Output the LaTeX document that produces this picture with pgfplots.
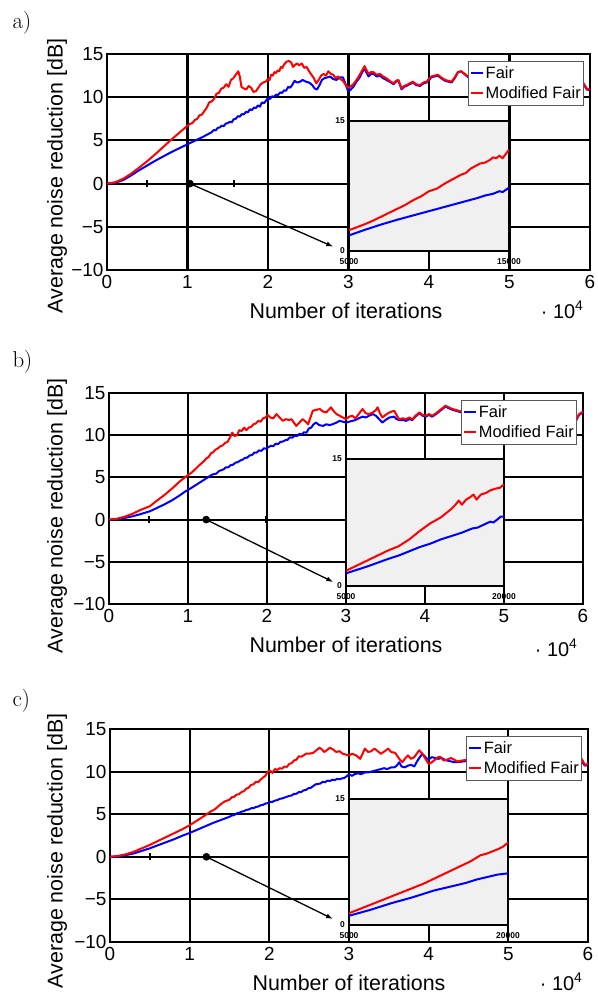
\documentclass[border=0pt]{standalone}
\usepackage{fontspec}
\usepackage{pgfplots}
\pgfplotsset{compat=1.18}
\usetikzlibrary{arrows.meta}
\newfontfamily\arial{Liberation Sans}
\pgfplotsset{
  mainax/.style={scale only axis, xmin=0, xmax=6, ymin=-10, ymax=15,
    xtick={0,1,2,3,4,5,6}, xticklabels={0,1,2,3,4,5,6},
    ytick={-10,-5,0,5,10,15}, yticklabels={−10,−5,0,5,10,15},
    grid=major, grid style={black, line width=2.1bp},
    axis line style={black, line width=2.1bp},
    major tick length=0pt,
    tick label style={font=\arial\fontsize{19}{19}\selectfont},
    xticklabel shift=2bp,
    legend style={at={(rel axis cs:0.988,0.968)}, anchor=north east,
      draw=black!65, line width=0.9bp, fill=white,
      font=\arial\fontsize{16.5}{18}\selectfont,
      inner xsep=1.5bp, inner ysep=3.5bp, row sep=4bp,
      nodes={inner sep=1.5bp}},
    legend cell align=left,
  },
  inset/.style={scale only axis, ymin=0, ymax=15, ytick={0,15}, yticklabels={0,15},
    axis background/.style={fill=black!6},
    axis line style={black, line width=1.8bp},
    major tick length=0pt,
    tick label style={font=\arial\bfseries\fontsize{8.5}{9}\selectfont},
    yticklabel style={inner sep=0pt, xshift=-4bp},
    xticklabel style={inner sep=0pt, yshift=-7bp},
    scaled x ticks=false,
  },
  fairb/.style={blue, line width=2bp, line join=round},
  fairr/.style={red, line width=2bp, line join=round},
  legb/.style={legend image code/.code={\draw[blue, line width=2bp] (0bp,0bp) -- (12bp,0bp);}},
  legr/.style={legend image code/.code={\draw[red, line width=2bp] (0bp,0bp) -- (12bp,0bp);}},
  tickmk/.style={forget plot, black, only marks, mark=|, mark size=3.5bp, mark options={line width=2bp}},
  dotmk/.style={forget plot, black, only marks, mark=*, mark size=3.6bp},
  arr/.style={forget plot, black, line width=1.3bp, -{Latex[length=7bp,width=5bp]}},
}
\begin{document}
\begin{tikzpicture}
\useasboundingbox (0bp,0bp) rectangle (598bp,-994bp);
% ---------------- panel a ----------------
\node[anchor=base west, font=\fontsize{23}{23}\selectfont] at (9bp,-28bp) {a)};
\begin{axis}[mainax, at={(107bp,-270bp)}, anchor=south west, width=483bp, height=216bp]
\addplot[fairb, legb] coordinates {(0,0)(0.1,0.1)(0.2,0.4)(0.3,0.95)(0.4,1.55)(0.5,2.1)(0.6,2.65)(0.7,3.15)(0.8,3.65)(0.9,4.1)(1.0,4.55)(1.1,5.0)(1.2,5.45)(1.3,5.95)(1.325,6.2)(1.35,6.15)(1.375,6.45)(1.4,6.5)(1.425,6.7)(1.45,6.65)(1.475,6.95)(1.5,7.0)(1.525,7.15)(1.55,7.1)(1.575,7.45)(1.6,7.5)(1.625,7.8)(1.65,7.75)(1.675,8.05)(1.7,8.0)(1.725,8.3)(1.75,8.25)(1.775,8.6)(1.8,8.5)(1.825,8.8)(1.85,8.75)(1.875,9.05)(1.9,8.9)(1.925,9.4)(1.95,9.3)(1.975,9.6)(2.0,9.9)(2.025,9.8)(2.05,10.1)(2.075,10.05)(2.1,10.3)(2.125,10.25)(2.15,10.55)(2.175,10.5)(2.2,10.8)(2.225,10.75)(2.25,11.2)(2.275,11.1)(2.3,11.4)(2.33,11.9)(2.36,11.7)(2.4,11.8)(2.43,12.0)(2.47,11.8)(2.51,11.7)(2.55,11.4)(2.58,11.0)(2.61,10.9)(2.64,11.4)(2.67,12.0)(2.7,12.2)(2.74,12.3)(2.77,12.4)(2.81,12.1)(2.85,12.0)(2.89,12.3)(2.93,12.3)(2.96,11.6)(2.99,10.8)(3.02,10.8)(3.06,11.2)(3.1,11.8)(3.14,12.3)(3.17,12.9)(3.2,13.3)(3.22,12.9)(3.25,12.4)(3.28,12.7)(3.31,12.7)(3.35,12.4)(3.39,12.5)(3.43,12.2)(3.47,12.0)(3.51,11.8)(3.56,11.5)(3.59,11.8)(3.62,11.9)(3.64,11.4)(3.66,10.9)(3.69,11.2)(3.72,11.3)(3.76,11.5)(3.8,11.7)(3.84,11.4)(3.89,11.3)(3.93,11.6)(3.97,11.7)(4.0,12.0)(4.03,12.3)(4.07,12.4)(4.11,12.5)(4.15,12.2)(4.2,11.9)(4.24,11.8)(4.28,11.7)(4.32,12.2)(4.36,12.9)(4.4,13.0)(4.5,12.2)(4.7,12.0)(4.9,11.6)(5.1,11.9)(5.3,11.5)(5.5,11.8)(5.7,11.3)(5.88,11.6)(5.92,11.5)(5.96,10.9)(6.0,10.8)};
\addlegendentry{Fair}
\addplot[fairr, legr] coordinates {(0,0)(0.1,0.15)(0.2,0.55)(0.3,1.15)(0.4,1.85)(0.5,2.6)(0.6,3.4)(0.7,4.25)(0.8,5.1)(0.9,5.9)(1.0,6.7)(1.03,6.9)(1.06,7.0)(1.09,7.35)(1.12,7.5)(1.15,7.9)(1.18,8.0)(1.21,8.4)(1.24,8.8)(1.27,9.4)(1.3,9.5)(1.33,9.8)(1.36,10.4)(1.39,10.5)(1.42,11.0)(1.45,11.1)(1.48,11.5)(1.51,11.2)(1.54,12.0)(1.57,12.2)(1.6,12.6)(1.63,13.0)(1.65,12.4)(1.67,11.2)(1.7,11.0)(1.73,10.9)(1.76,11.3)(1.79,11.1)(1.82,10.6)(1.85,10.7)(1.88,11.1)(1.91,11.5)(1.94,11.7)(1.97,11.8)(2.0,12.1)(2.02,12.0)(2.04,12.6)(2.06,12.5)(2.08,12.9)(2.1,12.8)(2.12,13.1)(2.14,13.0)(2.16,13.5)(2.18,13.4)(2.2,13.8)(2.23,14.1)(2.26,14.2)(2.29,14.0)(2.31,13.5)(2.33,13.7)(2.36,13.9)(2.39,13.7)(2.42,13.9)(2.45,13.4)(2.48,13.5)(2.51,13.0)(2.54,12.6)(2.57,12.2)(2.6,11.6)(2.63,12.0)(2.66,12.5)(2.69,12.7)(2.72,12.5)(2.75,13.0)(2.78,12.7)(2.81,12.6)(2.84,12.2)(2.87,12.4)(2.9,12.1)(2.93,11.9)(2.96,11.5)(2.99,11.1)(3.02,11.2)(3.06,11.5)(3.1,12.0)(3.14,12.6)(3.17,13.1)(3.2,13.6)(3.22,13.2)(3.25,12.7)(3.28,12.9)(3.31,12.9)(3.35,12.6)(3.39,12.7)(3.43,12.4)(3.47,12.2)(3.51,11.9)(3.56,11.6)(3.59,11.9)(3.62,12.0)(3.64,11.5)(3.66,11.0)(3.69,11.3)(3.72,11.4)(3.76,11.6)(3.8,11.8)(3.84,11.5)(3.89,11.4)(3.93,11.7)(3.97,11.8)(4.0,12.1)(4.03,12.4)(4.07,12.5)(4.11,12.6)(4.15,12.3)(4.2,12.0)(4.24,11.9)(4.28,11.8)(4.32,12.3)(4.36,12.9)(4.4,13.0)(4.5,12.3)(4.7,12.1)(4.9,11.7)(5.1,12.0)(5.3,11.6)(5.5,11.9)(5.7,11.4)(5.88,11.7)(5.92,11.6)(5.96,11.0)(6.0,10.9)};
\addlegendentry{Modified Fair\hspace{8bp}}
\addplot[arr] coordinates {(1.03,0)(2.81,-7.3)};
\addplot[tickmk] coordinates {(0.5,0)(1.58,0)};
\addplot[dotmk] coordinates {(1.03,0)};
\end{axis}
\begin{axis}[inset, at={(349bp,-251bp)}, anchor=south west, width=160bp, height=130bp,
  xmin=5000, xmax=15000, xtick={5000,15000}, xticklabels={5000,15000}]
\addplot[fairb] coordinates {(5000,1.8)(6000,2.45)(7000,3.05)(8000,3.6)(9000,4.1)(10000,4.6)(11000,5.1)(12000,5.6)(13000,6.1)(13500,6.4)(14000,6.6)(14400,6.9)(14600,6.8)(15000,7.3)};
\addplot[fairr] coordinates {(5000,2.4)(5500,2.75)(6000,3.1)(6500,3.5)(7000,3.95)(7500,4.4)(8000,4.85)(8500,5.3)(9000,5.85)(9500,6.3)(10000,6.9)(10500,7.2)(11000,7.8)(11500,8.3)(12000,8.8)(12300,9.0)(12600,9.5)(12900,9.8)(13200,10.1)(13500,10.2)(13800,10.5)(14000,10.8)(14200,10.7)(14400,11.0)(14600,10.7)(14800,11.2)(15000,11.7)};
\end{axis}
\node[rotate=90, font=\arial\fontsize{21.5}{22}\selectfont] at (57bp,-176bp) {Average noise reduction [dB]};
\node[anchor=base, font=\arial\fontsize{21.5}{22}\selectfont] at (346bp,-318bp) {Number of iterations};
\node[anchor=base east, font=\arial\fontsize{20}{22}\selectfont] at (587bp,-318bp) {·~10\textsuperscript{4}};
% ---------------- panel b ----------------
\node[anchor=base west, font=\fontsize{23}{23}\selectfont] at (9bp,-367bp) {b)};
\begin{axis}[mainax, at={(109bp,-604bp)}, anchor=south west, width=474bp, height=211bp]
\addplot[fairb, legb] coordinates {(0,0)(0.1,0.05)(0.2,0.2)(0.3,0.4)(0.4,0.65)(0.52,1.0)(0.6,1.35)(0.7,1.8)(0.8,2.3)(0.9,2.9)(0.96,3.3)(1.05,3.8)(1.15,4.4)(1.3,5.3)(1.33,5.4)(1.36,5.45)(1.39,5.75)(1.42,5.85)(1.45,5.95)(1.48,6.2)(1.51,6.2)(1.54,6.45)(1.57,6.5)(1.6,6.75)(1.63,6.8)(1.66,7.0)(1.69,7.1)(1.72,7.3)(1.75,7.35)(1.78,7.6)(1.81,7.65)(1.84,7.95)(1.87,7.95)(1.9,8.2)(1.93,8.15)(1.96,8.45)(1.99,8.4)(2.02,8.6)(2.05,8.75)(2.08,8.7)(2.11,9.0)(2.14,8.95)(2.17,9.2)(2.2,9.25)(2.23,9.4)(2.26,9.45)(2.29,9.75)(2.32,9.7)(2.35,9.95)(2.38,9.9)(2.41,10.15)(2.44,10.1)(2.47,10.35)(2.5,10.3)(2.53,10.8)(2.56,10.9)(2.59,11.3)(2.62,11.5)(2.66,11.2)(2.71,11.1)(2.75,11.3)(2.79,11.2)(2.83,11.3)(2.88,11.5)(2.92,11.7)(2.96,11.6)(3.0,11.5)(3.04,11.6)(3.08,11.7)(3.12,11.8)(3.16,12.0)(3.21,12.2)(3.25,12.1)(3.29,12.3)(3.34,12.5)(3.38,12.3)(3.42,11.9)(3.46,11.5)(3.5,11.8)(3.55,12.1)(3.61,12.2)(3.64,11.9)(3.67,11.8)(3.72,11.8)(3.76,11.7)(3.8,11.9)(3.84,11.8)(3.88,12.2)(3.93,12.6)(3.97,12.3)(4.01,12.2)(4.05,12.4)(4.09,12.2)(4.14,12.5)(4.18,12.8)(4.22,13.1)(4.26,13.4)(4.3,13.2)(4.35,13.0)(4.5,12.6)(4.8,12.3)(5.1,12.1)(5.4,12.0)(5.7,11.8)(5.9,11.5)(5.95,12.4)(6.0,12.7)};
\addlegendentry{Fair}
\addplot[fairr, legr] coordinates {(0,0)(0.1,0.1)(0.2,0.35)(0.3,0.7)(0.4,1.15)(0.52,1.6)(0.6,2.2)(0.7,2.9)(0.8,3.7)(0.9,4.55)(0.96,5.0)(1.05,5.6)(1.15,6.5)(1.2,6.9)(1.23,7.25)(1.26,7.4)(1.29,7.85)(1.32,8.0)(1.35,8.3)(1.38,8.45)(1.41,8.7)(1.44,8.8)(1.47,9.1)(1.5,9.2)(1.53,9.7)(1.56,10.3)(1.59,9.9)(1.62,10.0)(1.65,10.6)(1.68,10.5)(1.71,10.9)(1.74,10.6)(1.77,10.9)(1.8,11.0)(1.83,11.3)(1.86,11.4)(1.89,11.7)(1.92,11.6)(1.95,12.0)(1.98,12.1)(2.01,12.4)(2.04,12.1)(2.08,12.0)(2.12,12.5)(2.16,12.1)(2.2,11.7)(2.24,11.9)(2.28,11.8)(2.31,11.9)(2.34,11.5)(2.37,11.1)(2.41,11.5)(2.45,11.9)(2.49,11.6)(2.52,11.3)(2.55,12.1)(2.58,12.9)(2.62,13.0)(2.67,13.1)(2.71,12.8)(2.75,12.7)(2.78,13.0)(2.81,13.3)(2.84,12.9)(2.88,12.5)(2.92,12.3)(2.96,12.1)(3.0,11.9)(3.04,12.2)(3.08,12.3)(3.12,12.0)(3.16,12.5)(3.21,13.1)(3.25,12.6)(3.29,12.5)(3.34,12.7)(3.38,13.0)(3.4,13.3)(3.43,12.6)(3.46,12.1)(3.5,12.4)(3.55,12.7)(3.61,12.9)(3.64,12.4)(3.67,11.9)(3.72,12.0)(3.76,11.9)(3.8,12.1)(3.84,11.9)(3.88,12.3)(3.93,12.7)(3.97,12.4)(4.01,12.3)(4.05,12.5)(4.09,12.3)(4.14,12.6)(4.18,12.9)(4.22,13.2)(4.26,13.5)(4.3,13.3)(4.35,13.1)(4.5,12.7)(4.8,12.4)(5.1,12.2)(5.4,12.1)(5.7,11.9)(5.9,11.6)(5.95,12.5)(6.0,12.8)};
\addlegendentry{Modified Fair\hspace{8bp}}
\addplot[arr] coordinates {(1.23,0)(2.84,-7.4)};
\addplot[tickmk] coordinates {(0.51,0)(1.99,0)};
\addplot[dotmk] coordinates {(1.23,0)};
\end{axis}
\begin{axis}[inset, at={(346bp,-586bp)}, anchor=south west, width=158bp, height=127bp,
  xmin=5000, xmax=20000, xtick={5000,20000}, xticklabels={5000,20000}]
\addplot[fairb] coordinates {(5000,1.5)(7000,2.3)(9000,3.2)(10000,3.6)(11000,4.1)(12000,4.6)(13000,5.0)(14000,5.5)(15000,5.9)(16000,6.3)(17000,6.8)(17500,6.9)(18000,7.2)(18700,7.6)(19000,7.5)(19300,7.8)(19700,8.2)(20000,8.2)};
\addplot[fairr] coordinates {(5000,1.8)(6000,2.4)(7000,3.0)(8000,3.6)(9000,4.2)(10000,4.7)(11000,5.5)(12000,6.5)(13000,7.4)(14000,8.1)(14500,8.6)(15000,9.1)(15400,9.6)(15700,10.1)(16000,9.6)(16400,10.2)(16800,10.5)(17100,10.8)(17400,10.2)(17800,10.8)(18300,11.0)(18700,11.3)(19200,11.5)(19600,11.6)(20000,12.0)};
\end{axis}
\node[rotate=90, font=\arial\fontsize{21.5}{22}\selectfont] at (57bp,-516bp) {Average noise reduction [dB]};
\node[anchor=base, font=\arial\fontsize{21.5}{22}\selectfont] at (346bp,-652bp) {Number of iterations};
\node[anchor=base east, font=\arial\fontsize{20}{22}\selectfont] at (581bp,-656bp) {·~10\textsuperscript{4}};
% ---------------- panel c ----------------
\node[anchor=base west, font=\fontsize{23}{23}\selectfont] at (9bp,-706bp) {c)};
\begin{axis}[mainax, at={(110bp,-942bp)}, anchor=south west, width=478bp, height=213bp]
\addplot[fairb, legb] coordinates {(0,0)(0.1,0.05)(0.2,0.2)(0.3,0.4)(0.4,0.7)(0.5,1.0)(0.6,1.35)(0.7,1.7)(0.8,2.05)(0.9,2.45)(1.0,2.8)(1.1,3.2)(1.2,3.6)(1.3,4.0)(1.4,4.35)(1.5,4.7)(1.53,4.85)(1.56,4.9)(1.59,5.1)(1.62,5.15)(1.65,5.3)(1.68,5.35)(1.71,5.5)(1.74,5.55)(1.77,5.7)(1.8,5.7)(1.83,5.85)(1.86,5.9)(1.89,6.05)(1.92,6.1)(1.95,6.25)(1.98,6.3)(2.01,6.45)(2.04,6.45)(2.07,6.6)(2.1,6.65)(2.13,6.8)(2.16,6.85)(2.19,6.95)(2.22,7.05)(2.25,7.15)(2.28,7.2)(2.31,7.4)(2.34,7.4)(2.37,7.6)(2.4,7.6)(2.43,7.8)(2.46,7.85)(2.49,8.05)(2.52,8.1)(2.55,8.3)(2.58,8.5)(2.61,8.55)(2.64,8.6)(2.67,8.8)(2.7,8.75)(2.73,8.95)(2.76,8.9)(2.79,9.05)(2.82,9.0)(2.85,9.15)(2.88,9.1)(2.91,9.2)(2.94,9.25)(2.97,9.45)(3.0,9.7)(3.04,9.5)(3.07,9.7)(3.11,9.8)(3.15,9.7)(3.2,9.9)(3.24,9.9)(3.28,10.0)(3.32,10.1)(3.36,10.2)(3.4,10.3)(3.44,10.4)(3.48,10.3)(3.53,10.5)(3.57,10.5)(3.6,10.7)(3.63,11.1)(3.66,10.6)(3.7,10.5)(3.74,10.7)(3.78,10.8)(3.82,10.6)(3.86,11.3)(3.89,11.7)(3.92,12.1)(3.95,11.8)(3.98,11.5)(4.01,11.5)(4.04,11.7)(4.08,11.6)(4.12,11.5)(4.16,11.6)(4.2,11.4)(4.23,11.3)(4.28,11.2)(4.32,11.1)(4.36,11.1)(4.6,11.4)(4.9,11.6)(5.2,11.4)(5.5,11.5)(5.8,11.3)(5.92,11.2)(5.96,10.7)(6.0,10.8)};
\addlegendentry{Fair}
\addplot[fairr, legr] coordinates {(0,0)(0.1,0.1)(0.2,0.3)(0.3,0.6)(0.4,1.0)(0.5,1.4)(0.6,1.85)(0.7,2.3)(0.8,2.75)(0.9,3.2)(1.0,3.7)(1.1,4.3)(1.2,4.9)(1.26,5.3)(1.32,5.6)(1.38,6.1)(1.44,6.5)(1.5,6.7)(1.53,7.0)(1.56,7.05)(1.59,7.3)(1.62,7.35)(1.65,7.6)(1.68,7.7)(1.71,8.0)(1.74,8.1)(1.77,8.45)(1.8,8.5)(1.83,8.8)(1.86,8.75)(1.89,9.05)(1.92,9.3)(1.95,9.5)(1.98,10.0)(2.01,10.1)(2.04,9.85)(2.07,10.3)(2.1,10.2)(2.13,10.4)(2.16,10.35)(2.19,10.6)(2.22,10.55)(2.25,10.9)(2.28,11.0)(2.31,11.3)(2.34,11.4)(2.37,11.8)(2.4,11.75)(2.43,11.9)(2.46,12.1)(2.5,12.1)(2.55,12.2)(2.59,12.5)(2.63,12.8)(2.66,12.6)(2.69,12.3)(2.72,12.5)(2.76,12.8)(2.8,12.6)(2.84,12.3)(2.88,12.4)(2.92,12.1)(2.96,12.0)(3.0,11.9)(3.04,12.1)(3.09,11.9)(3.14,11.5)(3.17,12.1)(3.2,12.7)(3.24,12.3)(3.28,12.4)(3.32,12.7)(3.36,12.4)(3.4,12.1)(3.45,12.4)(3.49,12.7)(3.53,12.3)(3.58,12.2)(3.63,11.5)(3.67,11.1)(3.71,11.6)(3.74,11.9)(3.78,11.5)(3.82,11.7)(3.88,12.5)(3.92,12.1)(3.96,11.5)(4.0,10.9)(4.04,11.1)(4.08,11.4)(4.12,11.7)(4.15,11.7)(4.19,11.3)(4.23,11.4)(4.28,11.6)(4.32,11.4)(4.36,11.2)(4.6,11.6)(4.9,11.8)(5.2,11.6)(5.5,11.7)(5.8,11.5)(5.92,11.5)(5.96,10.8)(6.0,10.9)};
\addlegendentry{Modified Fair\hspace{8bp}}
\addplot[arr] coordinates {(1.21,0)(2.8,-7.3)};
\addplot[tickmk] coordinates {(0.5,0)(1.99,0)};
\addplot[dotmk] coordinates {(1.21,0)};
\end{axis}
\begin{axis}[inset, at={(349bp,-925bp)}, anchor=south west, width=159bp, height=126bp,
  xmin=5000, xmax=20000, xtick={5000,20000}, xticklabels={5000,20000}]
\addplot[fairb] coordinates {(5000,1.1)(7000,1.8)(9000,2.6)(11000,3.3)(13000,4.1)(15000,4.7)(16000,5.0)(17000,5.4)(18000,5.7)(19000,6.0)(20000,6.15)};
\addplot[fairr] coordinates {(5000,1.4)(6000,1.9)(7000,2.4)(8000,2.9)(9000,3.4)(10000,3.9)(11000,4.4)(12000,4.9)(13000,5.5)(14000,6.1)(15000,6.7)(16000,7.3)(16500,7.6)(17000,8.0)(17400,8.3)(18000,8.5)(18600,8.8)(19000,9.0)(19500,9.3)(20000,9.8)};
\end{axis}
\node[rotate=90, font=\arial\fontsize{21.5}{22}\selectfont] at (57bp,-851bp) {Average noise reduction [dB]};
\node[anchor=base, font=\arial\fontsize{21.5}{22}\selectfont] at (349bp,-990bp) {Number of iterations};
\node[anchor=base east, font=\arial\fontsize{20}{22}\selectfont] at (586bp,-990bp) {·~10\textsuperscript{4}};
\end{tikzpicture}
\end{document}
